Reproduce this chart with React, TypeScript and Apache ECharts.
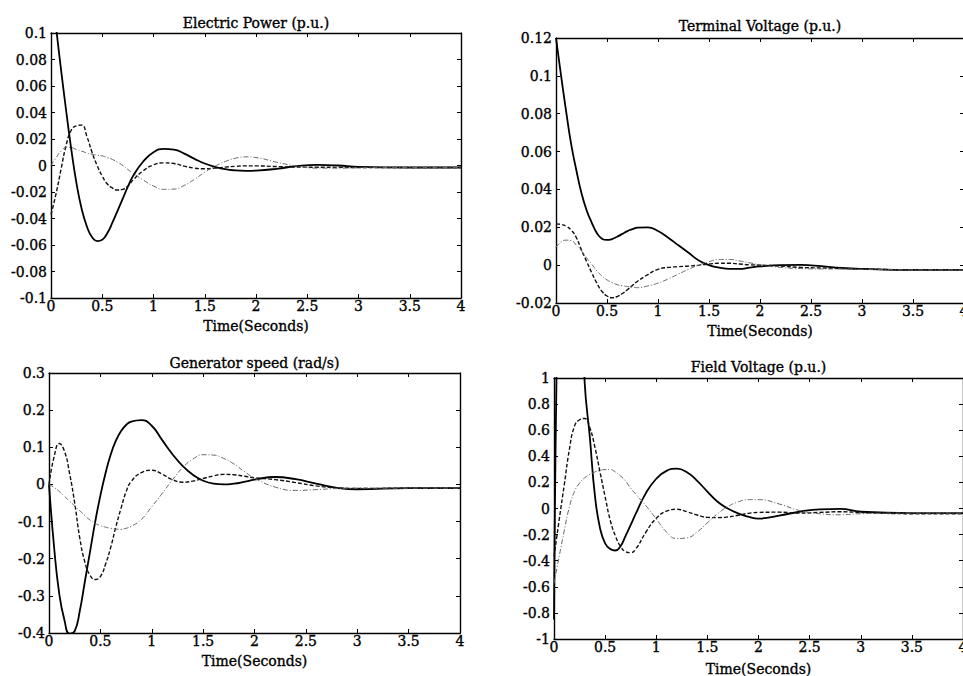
import React, { useEffect, useRef } from 'react';
import * as echarts from 'echarts';

const time = [0, 0.05, 0.1, 0.15, 0.2, 0.25, 0.3, 0.35, 0.4, 0.45, 0.5, 0.55, 0.6, 0.65, 0.7, 0.75, 0.8, 0.9, 1.0, 1.1, 1.2, 1.3, 1.4, 1.5, 1.6, 1.7, 1.8, 1.9, 2.0, 2.2, 2.4, 2.6, 2.8, 3.0, 3.5, 4.0];

const titles = ['Electric Power (p.u.)', 'Terminal Voltage (p.u.)', 'Generator speed (rad/s)', 'Field Voltage (p.u.)'];
const xName = 'Time(Seconds)';

// Electric Power
const powerSolid = [0.138, 0.104, 0.071, 0.040, 0.011, -0.014, -0.033, -0.046, -0.054, -0.057, -0.056, -0.051, -0.043, -0.034, -0.025, -0.016, -0.008, 0.003, 0.010, 0.0125, 0.012, 0.009, 0.005, 0.0015, -0.001, -0.0028, -0.0037, -0.004, -0.0038, -0.0025, -0.0005, 0.0004, 0, -0.001, -0.0015, -0.0015];
const powerDashed = [-0.037, -0.021, -0.002, 0.016, 0.027, 0.030, 0.0305, 0.022, 0.010, 0.000, -0.008, -0.014, -0.017, -0.0185, -0.018, -0.0155, -0.011, -0.004, 0.0005, 0.002, 0.0015, -0.0005, -0.002, -0.0025, -0.002, -0.0012, -0.0006, -0.0003, -0.0003, -0.0008, -0.0012, -0.0013, -0.0014, -0.0015, -0.0015, -0.0015];
const powerDashDot = [0, 0.006, 0.011, 0.0138, 0.0135, 0.012, 0.0108, 0.0095, 0.0085, 0.0078, 0.0072, 0.006, 0.0045, 0.0025, 0, -0.003, -0.0058, -0.011, -0.0155, -0.018, -0.0178, -0.015, -0.0105, -0.005, -0.0005, 0.003, 0.0055, 0.0065, 0.006, 0.0025, -0.0005, -0.002, -0.002, -0.0017, -0.0015, -0.0015];

// Terminal Voltage
const voltSolid = [0.12, 0.10, 0.081, 0.0635, 0.050, 0.038, 0.029, 0.0225, 0.017, 0.014, 0.0133, 0.0138, 0.015, 0.0165, 0.018, 0.019, 0.0198, 0.020, 0.018, 0.0145, 0.0105, 0.0065, 0.0025, 0, -0.0013, -0.002, -0.002, -0.0013, -0.0007, 0, 0.0001, -0.0005, -0.0015, -0.002, -0.0025, -0.0025];
const voltDashed = [0.0218, 0.0215, 0.0205, 0.0185, 0.0145, 0.008, 0.002, -0.004, -0.0095, -0.0138, -0.0163, -0.0172, -0.0166, -0.015, -0.013, -0.0107, -0.0085, -0.005, -0.0022, -0.0012, -0.0008, -0.0005, 0, 0.0006, 0.001, 0.001, 0.0006, 0.0002, 0, -0.0005, -0.0012, -0.0015, -0.0018, -0.002, -0.0025, -0.0025];
const voltDashDot = [0.0094, 0.0122, 0.0132, 0.013, 0.0105, 0.0075, 0.0038, 0.0005, -0.003, -0.0057, -0.0078, -0.0092, -0.0103, -0.0109, -0.0113, -0.0116, -0.0119, -0.011, -0.0095, -0.0073, -0.0047, -0.0022, 0, 0.0018, 0.003, 0.003, 0.0022, 0.0012, 0.0002, -0.0012, -0.0018, -0.002, -0.002, -0.0022, -0.0025, -0.0025];

// Generator speed
const speedSolid = [0, -0.17, -0.295, -0.365, -0.402, -0.395, -0.34, -0.26, -0.18, -0.1, -0.03, 0.03, 0.08, 0.117, 0.143, 0.16, 0.169, 0.173, 0.158, 0.12, 0.082, 0.05, 0.026, 0.01, 0.002, 0, 0.002, 0.007, 0.013, 0.02, 0.014, 0.002, -0.009, -0.013, -0.01, -0.01];
const speedDashed = [0, 0.075, 0.11, 0.09, 0.03, -0.05, -0.145, -0.21, -0.245, -0.256, -0.248, -0.215, -0.17, -0.115, -0.065, -0.02, 0.008, 0.032, 0.038, 0.028, 0.013, 0.006, 0.009, 0.016, 0.023, 0.027, 0.026, 0.022, 0.018, 0.013, 0.005, -0.004, -0.009, -0.011, -0.01, -0.01];
const speedDashDot = [0, -0.008, -0.019, -0.032, -0.045, -0.058, -0.071, -0.084, -0.096, -0.105, -0.111, -0.115, -0.118, -0.12, -0.121, -0.118, -0.113, -0.094, -0.06, -0.025, 0.012, 0.045, 0.068, 0.08, 0.079, 0.07, 0.055, 0.035, 0.017, -0.007, -0.016, -0.014, -0.011, -0.01, -0.01, -0.01];

// Field Voltage
const fieldSolid = [-0.85, 2.2, 3.2, 3.5, 3.0, 2.0, 0.965, 0.55, 0.1, -0.15, -0.267, -0.31, -0.322, -0.29, -0.21, -0.125, -0.04, 0.12, 0.228, 0.288, 0.305, 0.278, 0.212, 0.13, 0.052, 0, -0.038, -0.063, -0.077, -0.055, -0.025, -0.006, -0.003, -0.025, -0.035, -0.035];
const fieldDashed = [-0.369, -0.09, 0.18, 0.45, 0.63, 0.68, 0.69, 0.62, 0.47, 0.28, 0.09, -0.09, -0.21, -0.29, -0.33, -0.338, -0.31, -0.18, -0.075, -0.02, -0.006, -0.025, -0.05, -0.068, -0.07, -0.065, -0.052, -0.037, -0.03, -0.028, -0.035, -0.03, -0.025, -0.03, -0.04, -0.04];
const fieldDashDot = [-0.574, -0.37, -0.17, 0.01, 0.13, 0.195, 0.235, 0.26, 0.28, 0.292, 0.298, 0.298, 0.28, 0.25, 0.21, 0.155, 0.11, 0.02, -0.08, -0.18, -0.23, -0.225, -0.18, -0.11, -0.04, 0.014, 0.05, 0.068, 0.068, 0.035, -0.015, -0.04, -0.048, -0.04, -0.035, -0.035];

const FONT = 'DejaVu Serif';

const panels = [
  { grid: { left: 51, top: 33, width: 410, height: 265 }, y: [-0.1, 0.1, 0.02], data: [powerSolid, powerDashed, powerDashDot], titleY: 16, nameGap: 21 },
  { grid: { left: 556, top: 38, width: 408, height: 265 }, y: [-0.02, 0.12, 0.02], data: [voltSolid, voltDashed, voltDashDot], titleY: 19, nameGap: 21 },
  { grid: { left: 49, top: 373, width: 411, height: 260 }, y: [-0.4, 0.3, 0.1], data: [speedSolid, speedDashed, speedDashDot], titleY: 356, nameGap: 21 },
  { grid: { left: 554, top: 378, width: 409, height: 261 }, y: [-1, 1, 0.2], data: [fieldSolid, fieldDashed, fieldDashDot], titleY: 360, nameGap: 23 },
];

const lineStyles = [
  { color: '#000', width: 1.8, type: 'solid' as any },
  { color: '#111', width: 1.4, type: [4, 2] as any },
  { color: '#666', width: 1, type: [5, 2, 1, 2] as any },
];

const fmt = (v: number) => String(parseFloat(v.toFixed(4)));

const txt = { fontFamily: FONT, fontSize: 14, color: '#000', textBorderColor: '#000', textBorderWidth: 0.35 };

export default function App() {
  const ref = useRef<HTMLDivElement>(null);
  useEffect(() => {
    if (!ref.current) return;
    const chart = echarts.init(ref.current, undefined, { renderer: 'svg' });
    const grids: any[] = [];
    const xAxes: any[] = [];
    const yAxes: any[] = [];
    const series: any[] = [];
    const title: any[] = [];
    panels.forEach((p, i) => {
      grids.push({ ...p.grid, containLabel: false, outerBoundsMode: 'none' });
      title.push({
        text: titles[i], left: p.grid.left + p.grid.width / 2, top: p.titleY, textAlign: 'center', padding: 0,
        textStyle: { ...txt, fontWeight: 'normal' },
      });
      const axisLine = { show: true, onZero: false, lineStyle: { color: '#000', width: 1.4 } };
      const tick = { show: true, inside: true, length: 4, lineStyle: { color: '#000', width: 1 } };
      xAxes.push({
        type: 'value', gridIndex: i, position: 'bottom', min: 0, max: 4, interval: 0.5,
        axisLine, axisTick: tick, splitLine: { show: false },
        axisLabel: { ...txt, margin: 1, formatter: fmt },
        name: xName, nameLocation: 'middle', nameGap: p.nameGap,
        nameTextStyle: { ...txt },
      });
      xAxes.push({
        type: 'value', gridIndex: i, position: 'top', min: 0, max: 4, interval: 0.5,
        axisLine, axisTick: tick, axisLabel: { show: false }, splitLine: { show: false },
      });
      yAxes.push({
        type: 'value', gridIndex: i, position: 'left', min: p.y[0], max: p.y[1], interval: p.y[2],
        axisLine, axisTick: tick, splitLine: { show: false },
        axisLabel: { ...txt, margin: 4, formatter: fmt },
      });
      yAxes.push({
        type: 'value', gridIndex: i, position: 'right', min: p.y[0], max: p.y[1], interval: p.y[2],
        axisLine, axisTick: tick, axisLabel: { show: false }, splitLine: { show: false },
      });
      p.data.forEach((arr, k) => {
        series.push({
          type: 'line', xAxisIndex: i * 2, yAxisIndex: i * 2, showSymbol: false, symbol: 'none',
          smooth: 0.5, clip: true, lineStyle: lineStyles[k], silent: true,
          data: time.map((t, j) => [t, arr[j]]),
        });
      });
    });
    chart.setOption({
      animation: false,
      backgroundColor: '#fff',
      title,
      grid: grids,
      xAxis: xAxes,
      yAxis: yAxes,
      series,
    });
    return () => chart.dispose();
  }, []);
  return (
    <div style={{ position: 'fixed', left: 0, top: 0, width: 963, height: 676, overflow: 'hidden', background: '#fff' }}>
      <div ref={ref} style={{ width: 963, height: 676 }} />
    </div>
  );
}
